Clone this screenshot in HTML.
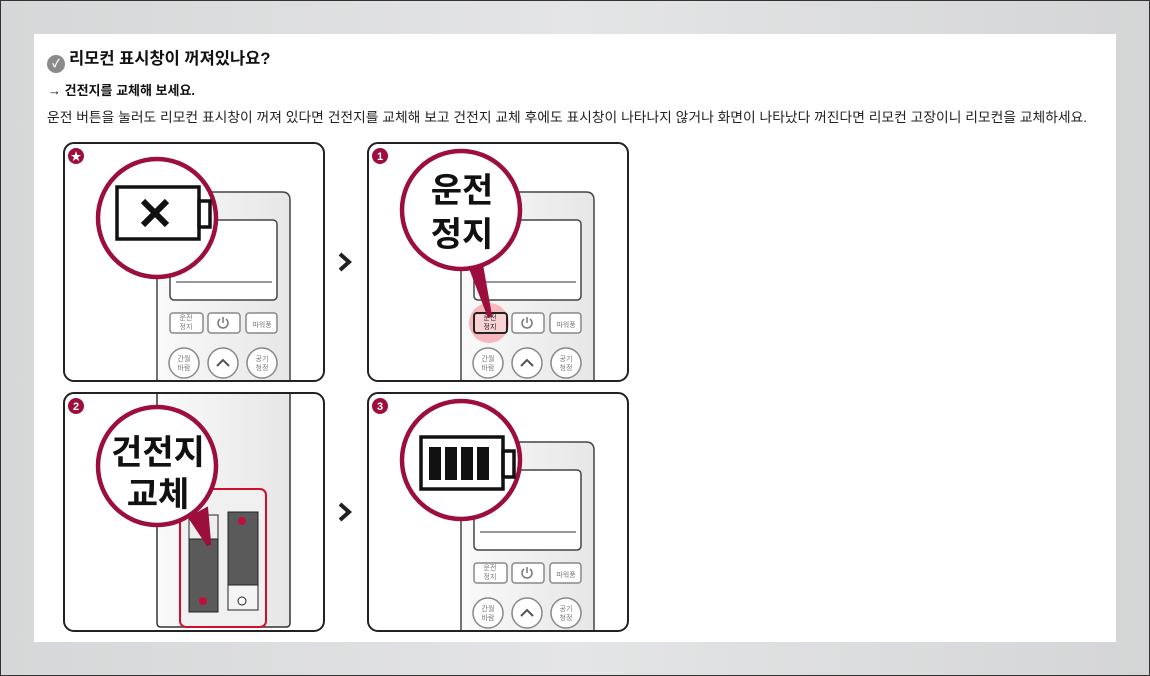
<!DOCTYPE html>
<html><head><meta charset="utf-8"><style>
body{margin:0;width:1150px;height:676px;background:#d9dadb;overflow:hidden;font-family:"Liberation Sans","Noto Sans CJK KR",sans-serif;}
.frame{position:absolute;left:0;top:0;width:1148px;height:674px;border:1px solid #333;background:linear-gradient(90deg,#d6d7d8,#e4e5e6 50%,#d4d5d6);}
.panel{position:absolute;left:34px;top:34px;width:1082px;height:608px;background:#fff;}
h2{position:absolute;left:13px;top:11px;margin:0;font-size:16.5px;font-weight:bold;color:#111;}
.chk{display:inline-block;width:18px;height:18px;border-radius:50%;background:#8a8a8a;color:#fff;font-size:11px;text-align:center;line-height:18px;vertical-align:-3px;margin-right:4px;}
.sub{position:absolute;left:14px;top:46px;font-size:13px;font-weight:bold;color:#111;}
.desc{position:absolute;left:13px;top:72px;font-size:13.8px;color:#222;white-space:nowrap;}
svg{position:absolute;left:0;top:0;}
</style></head><body>
<div class="frame"></div>
<div class="panel">
<h2><span class="chk">✓</span>리모컨 표시창이 꺼져있나요?</h2>
<div class="sub">→ 건전지를 교체해 보세요.</div>
<div class="desc">운전 버튼을 눌러도 리모컨 표시창이 꺼져 있다면 건전지를 교체해 보고 건전지 교체 후에도 표시창이 나타나지 않거나 화면이 나타났다 꺼진다면 리모컨 고장이니 리모컨을 교체하세요.</div>
</div>
<svg width="1150" height="676" viewBox="0 0 1150 676" font-family="Liberation Sans, Noto Sans CJK KR, sans-serif">
<defs>
<clipPath id="c1"><rect x="64" y="143" width="260" height="238" rx="10"/></clipPath>
<clipPath id="c2"><rect x="368" y="143" width="260" height="238" rx="10"/></clipPath>
<clipPath id="c3"><rect x="64" y="393" width="260" height="238" rx="10"/></clipPath>
<clipPath id="c4"><rect x="368" y="393" width="260" height="238" rx="10"/></clipPath>
<linearGradient id="rg" x1="0" x2="1"><stop offset="0" stop-color="#fafafa"/><stop offset="1" stop-color="#e6e6e6"/></linearGradient>
</defs>
<g clip-path="url(#c1)">
 <g transform="translate(64,143)" fill="none" stroke="#444" stroke-width="1.5">
  <path d="M93,250 V57 Q93,49 101,49 H218 Q226,49 226,57 V250" fill="url(#rg)"/>
  <rect x="106" y="77" width="107" height="80" rx="4" fill="#fff"/>
  <line x1="112" y1="139" x2="208" y2="139" stroke="#777"/>
  <rect x="106" y="170" width="33" height="20" rx="3" stroke="#888" fill="#fff"/>
  <rect x="144" y="170" width="32" height="20" rx="3" stroke="#888" fill="#fff"/>
  <rect x="182" y="170" width="31" height="20" rx="3" stroke="#888" fill="#fff"/>
  <circle cx="120" cy="220" r="15" stroke="#888" fill="#fff"/>
  <circle cx="159" cy="220" r="15" stroke="#888" fill="#fff"/>
  <circle cx="198" cy="220" r="15" stroke="#888" fill="#fff"/>
  <path d="M153,223 L159,217 L165,223" stroke="#555" stroke-width="2"/>
  <path d="M156,176 A5,5 0 1 0 162,176 M159,174 V180" stroke="#777"/>
 </g>
 <g font-size="7" fill="#777" text-anchor="middle"><text x="186" y="320">운전</text><text x="186" y="329">정지</text><text x="262" y="327">파워풍</text>
 <text x="184" y="361">간월</text><text x="184" y="370">바람</text><text x="262" y="361">공기</text><text x="262" y="370">청정</text></g>
</g>
<g clip-path="url(#c2)">
 <g transform="translate(368,143)" fill="none" stroke="#444" stroke-width="1.5">
  <path d="M93,250 V57 Q93,49 101,49 H218 Q226,49 226,57 V250" fill="url(#rg)"/>
  <rect x="106" y="77" width="107" height="80" rx="4" fill="#fff"/>
  <line x1="112" y1="139" x2="208" y2="139" stroke="#777"/>
  <circle cx="121" cy="180" r="20" fill="#f6b7bd" stroke="none"/>
  <rect x="106" y="170" width="33" height="20" rx="3" stroke="#222" stroke-width="2" fill="#f9d2d5"/>
  <rect x="144" y="170" width="32" height="20" rx="3" stroke="#888" fill="#fff"/>
  <rect x="182" y="170" width="31" height="20" rx="3" stroke="#888" fill="#fff"/>
  <circle cx="120" cy="220" r="15" stroke="#888" fill="#fff"/>
  <circle cx="159" cy="220" r="15" stroke="#888" fill="#fff"/>
  <circle cx="198" cy="220" r="15" stroke="#888" fill="#fff"/>
  <path d="M153,223 L159,217 L165,223" stroke="#555" stroke-width="2"/>
  <path d="M156,176 A5,5 0 1 0 162,176 M159,174 V180" stroke="#777"/>
 </g>
 <g font-size="7" fill="#777" text-anchor="middle"><text x="490" y="320" fill="#222">운전</text><text x="490" y="329" fill="#222">정지</text><text x="566" y="327">파워풍</text>
 <text x="488" y="361">간월</text><text x="488" y="370">바람</text><text x="566" y="361">공기</text><text x="566" y="370">청정</text></g>
</g>
<g clip-path="url(#c4)">
 <g transform="translate(368,393)" fill="none" stroke="#444" stroke-width="1.5">
  <path d="M93,250 V57 Q93,49 101,49 H218 Q226,49 226,57 V250" fill="url(#rg)"/>
  <rect x="106" y="77" width="107" height="80" rx="4" fill="#fff"/>
  <line x1="112" y1="139" x2="208" y2="139" stroke="#777"/>
  <rect x="106" y="170" width="33" height="20" rx="3" stroke="#888" fill="#fff"/>
  <rect x="144" y="170" width="32" height="20" rx="3" stroke="#888" fill="#fff"/>
  <rect x="182" y="170" width="31" height="20" rx="3" stroke="#888" fill="#fff"/>
  <circle cx="120" cy="220" r="15" stroke="#888" fill="#fff"/>
  <circle cx="159" cy="220" r="15" stroke="#888" fill="#fff"/>
  <circle cx="198" cy="220" r="15" stroke="#888" fill="#fff"/>
  <path d="M153,223 L159,217 L165,223" stroke="#555" stroke-width="2"/>
  <path d="M156,176 A5,5 0 1 0 162,176 M159,174 V180" stroke="#777"/>
 </g>
 <g font-size="7" fill="#777" text-anchor="middle"><text x="490" y="570">운전</text><text x="490" y="579">정지</text><text x="566" y="577">파워풍</text>
 <text x="488" y="611">간월</text><text x="488" y="620">바람</text><text x="566" y="611">공기</text><text x="566" y="620">청정</text></g>
</g>
<g clip-path="url(#c3)">
 <path d="M157,380 V623 Q157,627 161,627 H286 Q290,627 290,623 V380" fill="url(#rg)" stroke="#333" stroke-width="1.5"/>
 <rect x="180" y="489" width="86" height="138" rx="6" fill="#f0f0f0" stroke="#d0102a" stroke-width="2"/>
 <rect x="189" y="515" width="29" height="97" fill="#5a5a5a" stroke="#222"/>
 <rect x="189" y="515" width="29" height="24" fill="#eee" stroke="#222"/>
 <rect x="228" y="512" width="30" height="98" fill="#5a5a5a" stroke="#222"/>
 <rect x="228" y="585" width="30" height="25" fill="#f4f4f4" stroke="#222"/>
 <circle cx="203" cy="601" r="4" fill="#c0103a"/><circle cx="242" cy="521" r="4" fill="#c0103a"/>
 <circle cx="242" cy="601" r="4" fill="#fff" stroke="#222"/>
</g>
<g fill="none" stroke="#222" stroke-width="2">
 <rect x="64" y="143" width="260" height="238" rx="10"/>
 <rect x="368" y="143" width="260" height="238" rx="10"/>
 <rect x="64" y="393" width="260" height="238" rx="10"/>
 <rect x="368" y="393" width="260" height="238" rx="10"/>
</g>
<g fill="#9c0f3c"><circle cx="76" cy="156" r="8"/><circle cx="380" cy="156" r="8"/><circle cx="76" cy="406" r="8"/><circle cx="380" cy="406" r="8"/></g>
<g fill="#fff" font-size="11" font-weight="bold" text-anchor="middle"><text x="76" y="160">★</text><text x="380" y="160">1</text><text x="76" y="410">2</text><text x="380" y="410">3</text></g>
<path d="M340,254 L349,262 L340,270" fill="none" stroke="#222" stroke-width="4"/>
<path d="M340,504 L349,512 L340,520" fill="none" stroke="#222" stroke-width="4"/>
<g fill="#fff" stroke="#9c0f3c" stroke-width="4.5">
 <circle cx="157" cy="218" r="59"/>
 <path d="M470,265 L490,317 L481,266 Z" fill="#9c0f3c"/>
 <circle cx="461" cy="210" r="59"/>
 <path d="M191,518 L209,545 L206,510 Z" fill="#9c0f3c"/>
 <circle cx="157" cy="466" r="59"/>
 <circle cx="461" cy="460" r="59"/>
</g>
<g stroke="#111" stroke-width="3.5" fill="none">
 <rect x="117" y="187" width="82" height="52"/><rect x="199" y="201" width="11" height="26"/>
 <path d="M143,201 L167,225 M167,201 L143,225" stroke-width="6"/>
 <rect x="421" y="437" width="82" height="52"/><rect x="503" y="451" width="11" height="26"/>
</g>
<g fill="#111"><rect x="429" y="447" width="12" height="33"/><rect x="445" y="447" width="12" height="33"/><rect x="461" y="447" width="12" height="33"/><rect x="477" y="447" width="12" height="33"/></g>
<g font-size="34" font-weight="bold" fill="#111" text-anchor="middle">
 <text x="462" y="202">운전</text><text x="462" y="246">정지</text>
 <text x="158" y="464">건전지</text><text x="158" y="506">교체</text>
</g>
</svg>
</body></html>
